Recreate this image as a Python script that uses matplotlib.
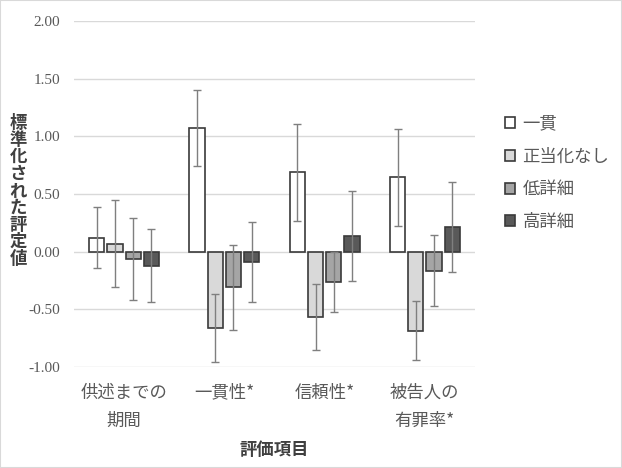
import matplotlib
matplotlib.use("Agg")
import matplotlib.pyplot as plt
import numpy as np
from matplotlib.patches import Rectangle

plt.rcParams['font.family'] = ['Noto Sans CJK JP', 'DejaVu Sans']

categories = ["供述までの\n期間", "一貫性*", "信頼性*", "被告人の\n有罪率*"]
series_names = ["一貫", "正当化なし", "低詳細", "高詳細"]
mean_ikkan = [0.12, 1.07, 0.69, 0.645]
mean_seitouka = [0.07, -0.665, -0.565, -0.685]
mean_tei = [-0.06, -0.31, -0.26, -0.165]
mean_kou = [-0.12, -0.09, 0.14, 0.21]
err_ikkan = [0.265, 0.33, 0.42, 0.42]
err_seitouka = [0.375, 0.295, 0.285, 0.255]
err_tei = [0.355, 0.365, 0.26, 0.31]
err_kou = [0.315, 0.35, 0.39, 0.39]
yticks = [-1.0, -0.5, 0.0, 0.5, 1.0, 1.5, 2.0]

means = [mean_ikkan, mean_seitouka, mean_tei, mean_kou]
errs = [err_ikkan, err_seitouka, err_tei, err_kou]
colors = ["#ffffff", "#d9d9d9", "#a5a5a5", "#595959"]

fig = plt.figure(figsize=(6.22, 4.68), dpi=100)
ax = fig.add_axes([74/622, 1-367/468, (475-74)/622, (367-21)/468])

x = np.arange(len(categories))
width = 0.15
step = 0.182
offsets = (np.arange(4) - 1.5) * step
for i in range(4):
    ax.bar(x + offsets[i], means[i], width, color=colors[i], edgecolor="#3a3a3a",
           linewidth=1.2, label=series_names[i], zorder=3)
    ax.errorbar(x + offsets[i], means[i], yerr=errs[i], fmt='none', ecolor="#7f7f7f",
                elinewidth=1.0, capsize=3, capthick=1.0, zorder=4)

ax.set_xlim(-0.5, 3.5)
ax.set_ylim(-1.0, 2.0)
ax.set_yticks(yticks)
ax.set_yticklabels([f"{v:.2f}" for v in yticks], family=['Liberation Serif'], fontsize=11, color="#595959")
ax.yaxis.grid(True, color="#d9d9d9", linewidth=1.0, zorder=0)
ax.set_axisbelow(True)
for s in ax.spines.values():
    s.set_visible(False)
ax.tick_params(axis='both', length=0)
ax.tick_params(axis='y', pad=10)
ax.set_xticks(x)
ax.set_xticklabels(categories, fontsize=12.5, color="#595959", linespacing=1.75)
ax.tick_params(axis='x', pad=12)

fig.text(18/622, 1-191/468, "\n".join("標準化された評定値"), ha='center', va='center',
         fontsize=12.5, fontweight='bold', color="#404040", linespacing=0.93)
fig.text(274/622, 1-450/468, "評価項目", ha='center', va='center',
         fontsize=12.5, fontweight='bold', color="#404040")

leg = ax.legend(loc='center left', bbox_to_anchor=(1.075, 0.561), frameon=False,
                fontsize=12.5, handlelength=0.6, handleheight=0.6, handletextpad=0.4,
                labelspacing=0.85, labelcolor="#595959", borderaxespad=0, borderpad=0)

fig.patches.append(Rectangle((0, 0), 1, 1, transform=fig.transFigure, fill=False,
                             edgecolor="#d9d9d9", linewidth=1.5))

fig.savefig("out.png", dpi=100)
